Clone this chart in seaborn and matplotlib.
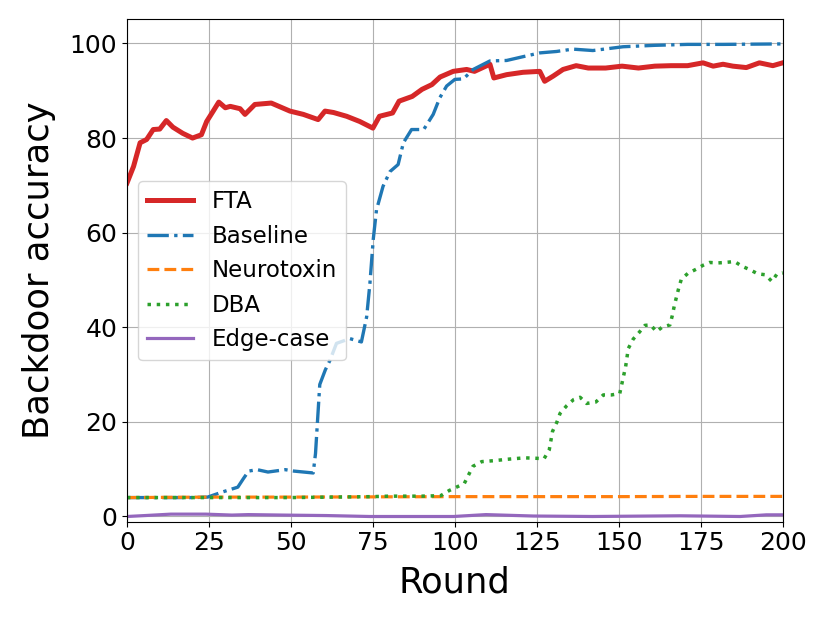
import matplotlib
matplotlib.use("Agg")
import matplotlib.pyplot as plt
import seaborn as sns
import numpy as np

# ---- data ----
fta_rounds = [0, 2, 4, 6, 8, 10, 12, 14, 17, 20, 22.7, 24.3, 26.3, 28, 30, 31.5, 34.5, 36, 39, 44,
              49.7, 53.8, 58.3, 60.4, 63, 67, 71, 75, 77, 81, 83, 87, 90, 93, 95.5, 99.5, 103.6,
              106, 110.7, 111.9, 115.8, 120.8, 125.9, 127.4, 130, 133, 137, 140.7, 146, 151, 156,
              161, 166, 171, 175.7, 178.8, 181.8, 184.8, 188.9, 192.9, 197, 200]
fta_acc = [70.5, 74, 79, 79.7, 81.8, 81.9, 83.7, 82.3, 81, 80, 80.7, 83.5, 85.7, 87.6, 86.4, 86.7,
           86.2, 85, 87.1, 87.4, 85.7, 85, 83.9, 85.7, 85.4, 84.6, 83.5, 82.1, 84.6, 85.3, 87.8,
           88.8, 90.3, 91.3, 92.9, 94.1, 94.5, 94.1, 95.6, 92.7, 93.4, 93.9, 94.1, 92, 93.1, 94.5,
           95.3, 94.8, 94.8, 95.2, 94.8, 95.2, 95.3, 95.3, 95.9, 95.2, 95.6, 95.2, 94.9, 95.9,
           95.3, 95.9]

base_rounds = [0, 10, 20, 24.6, 29.2, 33.8, 35.5, 37.1, 39.7, 43, 48.3, 50.9, 56.8, 57.5, 58.8,
               60.5, 61.9, 63.9, 68, 71.5, 73.1, 74.1, 75.1, 76.1, 78.1, 80.2, 82.7, 84.3, 86.8,
               90.5, 93.4, 95.4, 97.5, 100, 102.6, 105.6, 110.7, 115.8, 120.8, 125.9, 131, 136,
               142.1, 151.3, 161, 171, 181.8, 200]
base_acc = [4.0, 4.0, 4.0, 4.1, 5.2, 6.2, 8, 9.6, 9.9, 9.4, 9.9, 9.6, 9.2, 13.3, 27.9, 31, 33,
            36.6, 37.6, 36.9, 42.2, 49.3, 58.5, 64.8, 69.8, 72.9, 74.4, 79, 81.8, 81.8, 85, 88.5,
            91, 92.4, 92.5, 94.5, 96.3, 96.4, 97.2, 98, 98.3, 98.8, 98.5, 99.3, 99.6, 99.8, 99.8,
            99.9]

neuro_rounds = [0, 25, 50, 75, 100, 125, 150, 175, 200]
neuro_acc = [4.0, 4.1, 4.1, 4.15, 4.2, 4.2, 4.2, 4.25, 4.25]

dba_rounds = [0, 25, 50, 75, 80, 90, 95.7, 98.3, 100.5, 102.9, 105.5, 108.2, 112, 116, 121.3,
              125, 127.2, 128.8, 129.8, 131.1, 132.1, 134.1, 136.2, 138.2, 140.2, 143, 145.3,
              147.8, 150.3, 151.4, 152.1, 152.9, 154.4, 156.2, 158, 159.7, 161.5, 163.2, 165.6,
              166.3, 166.9, 167.6, 168.3, 169.1, 171.1, 173.7, 175.7, 177.7, 180.1, 182.5, 185.3,
              187.6, 189.9, 192.4, 194.7, 196.7, 198.3, 200]
dba_acc = [4.0, 4.0, 4.0, 4.2, 4.3, 4.3, 4.4, 5.5, 6.2, 7, 10.6, 11.6, 11.8, 12.1, 12.4, 12.3,
           12.2, 14.1, 18, 19.9, 21.8, 23.4, 24.7, 25.2, 23.9, 24.2, 25.7, 25.7, 26, 29.5, 31.7,
           35.5, 37.5, 38.9, 40.4, 40.5, 39.1, 40, 40.5, 42.4, 44.4, 46.4, 48.3, 50.2, 51.4, 52.3,
           53.1, 53.7, 53.6, 53.7, 53.9, 52.9, 52.2, 51.3, 51.1, 49.7, 51.3, 51.5]

edge_rounds = [0, 5.5, 13.4, 24, 32, 37, 47.6, 60.8, 74, 89.7, 99.6, 109.5, 124, 142, 168.7,
               187, 195, 200]
edge_acc = [0, 0.2, 0.5, 0.5, 0.3, 0.4, 0.3, 0.2, 0, 0, 0, 0.4, 0.1, 0, 0.15, 0, 0.35, 0.35]

x_ticks = [0, 25, 50, 75, 100, 125, 150, 175, 200]
y_ticks = [0, 20, 40, 60, 80, 100]

# ---- plot ----
fig = plt.figure(figsize=(8.3, 6.23), dpi=100)
ax = fig.add_axes([0.153, 0.1626, 0.79, 0.8064])

series = [
    ("FTA", fta_rounds, fta_acc, "#d62728", "-", 3.6),
    ("Baseline", base_rounds, base_acc, "#1f77b4", "-.", 2.4),
    ("Neurotoxin", neuro_rounds, neuro_acc, "#ff7f0e", "--", 2.3),
    ("DBA", dba_rounds, dba_acc, "#2ca02c", ":", 2.5),
    ("Edge-case", edge_rounds, edge_acc, "#9467bd", "-", 2.3),
]
for name, xs, ys, col, ls, lw in series:
    sns.lineplot(x=xs, y=ys, ax=ax, color=col, linestyle=ls, linewidth=lw,
                 label=name, estimator=None, sort=False)

ax.set_xlim(0, 200)
ax.set_ylim(-1.1, 105.1)
ax.set_xticks(x_ticks)
ax.set_yticks(y_ticks)
ax.tick_params(labelsize=18)
ax.grid(True, color="#b0b0b0", linewidth=0.8)
ax.set_xlabel("Round", fontsize=25.5, labelpad=7)
ax.set_ylabel("Backdoor accuracy", fontsize=25.5, labelpad=10)
ax.legend(loc="upper left", bbox_to_anchor=(0.017, 0.678), borderaxespad=0,
          fontsize=16.5, handlelength=2.0)

fig.savefig("out.png", dpi=100)
